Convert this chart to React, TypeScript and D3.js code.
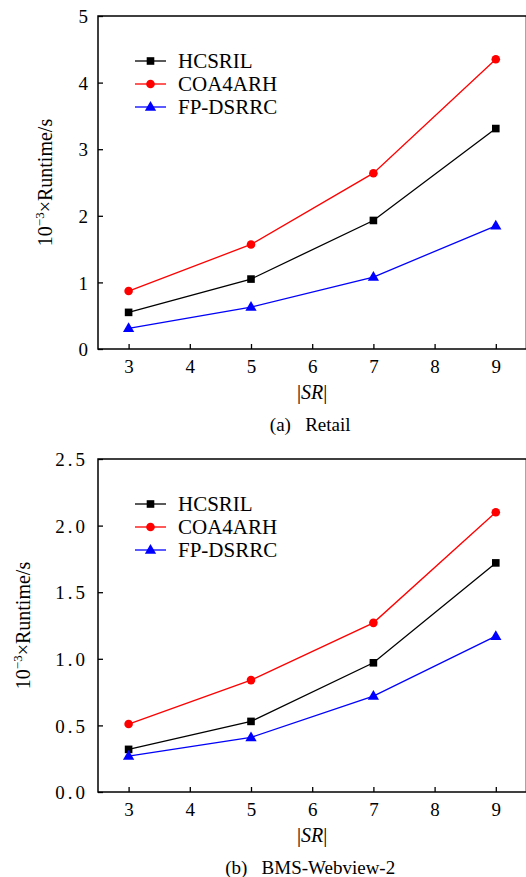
import React, { useEffect, useRef } from 'react';
import * as d3 from 'd3';

// |SR| values on the x axis
const srValues = [3, 5, 7, 9];
const xTicks = [3, 4, 5, 6, 7, 8, 9];
const seriesNames = ['HCSRIL', 'COA4ARH', 'FP-DSRRC'];
const seriesColors = ['#000000', '#ff0000', '#0000ff'];
const seriesMarkers = ['square', 'circle', 'triangle'];

// (a) Retail
const retailHCSRIL = [0.55, 1.05, 1.93, 3.31];
const retailCOA4ARH = [0.87, 1.57, 2.64, 4.35];
const retailFPDSRRC = [0.31, 0.63, 1.08, 1.85];
const retailYTicks = [0, 1, 2, 3, 4, 5];

// (b) BMS-Webview-2
const bmsHCSRIL = [0.32, 0.53, 0.97, 1.72];
const bmsCOA4ARH = [0.51, 0.84, 1.27, 2.1];
const bmsFPDSRRC = [0.27, 0.41, 0.72, 1.17];
const bmsYTicks = [0, 0.5, 1.0, 1.5, 2.0, 2.5];

const FONT = 'Liberation Serif, DejaVu Serif, serif';

type PanelOpts = {
  top: number;
  series: number[][];
  yMax: number;
  yTicks: number[];
  yFormat: (v: number) => string;
  yLetterSpacing: number;
  yLabelX: number;
  caption: string;
};

function drawPanel(svg: d3.Selection<SVGSVGElement, unknown, null, undefined>, o: PanelOpts) {
  var left = 98;
  var plotTop = o.top;
  var plotH = 333;

  var x = d3.scaleLinear().domain([2.5, 9.5]).range([left, left + 7 * 61.2]);
  var y = d3.scaleLinear().domain([0, o.yMax]).range([plotTop + plotH, plotTop]);

  var g = svg.append('g').style('font-family', FONT);

  // frame
  g.append('rect')
    .attr('x', x(2.5))
    .attr('y', y(o.yMax))
    .attr('width', x(9.5) - x(2.5))
    .attr('height', plotH)
    .attr('fill', 'none')
    .attr('stroke', '#000')
    .attr('stroke-width', 1.5);

  var xAxis = d3.axisBottom(x).tickValues(xTicks).tickSizeInner(-5).tickSizeOuter(0).tickPadding(11)
    .tickFormat(d3.format('d'));
  var xg = g.append('g')
    .attr('transform', 'translate(0,' + (plotTop + plotH) + ')')
    .call(xAxis);

  var yAxis = d3.axisLeft(y).tickValues(o.yTicks).tickSizeInner(-5).tickSizeOuter(0).tickPadding(10)
    .tickFormat((d) => o.yFormat(d as number));
  var yg = g.append('g')
    .attr('transform', 'translate(' + left + ',0)')
    .call(yAxis);

  [xg, yg].forEach((a) => {
    a.attr('font-family', null).attr('font-size', null);
    a.select('.domain').remove();
    a.selectAll('line').attr('stroke', '#000').attr('stroke-width', 1.3);
    a.selectAll('text')
      .style('font-family', FONT)
      .style('font-size', '19px')
      .attr('fill', '#000');
  });
  yg.selectAll('text').attr('letter-spacing', o.yLetterSpacing).attr('dy', '0.35em');

  // series
  var line = d3.line<number>()
    .x((d, i) => x(srValues[i]))
    .y((d) => y(d));

  o.series.forEach((vals, si) => {
    g.append('path')
      .datum(vals)
      .attr('d', line)
      .attr('fill', 'none')
      .attr('stroke', seriesColors[si])
      .attr('stroke-width', 1.3);
    vals.forEach((v, i) => {
      drawMarker(g, seriesMarkers[si], x(srValues[i]), y(v), seriesColors[si]);
    });
  });

  // legend
  var lgX = 135;
  var lgY = plotTop + 45;
  seriesNames.forEach((name, si) => {
    var ly = lgY + si * 23;
    g.append('line')
      .attr('x1', lgX).attr('x2', lgX + 31)
      .attr('y1', ly).attr('y2', ly)
      .attr('stroke', seriesColors[si])
      .attr('stroke-width', 1.3);
    drawMarker(g, seriesMarkers[si], lgX + 15.5, ly, seriesColors[si]);
    g.append('text')
      .attr('x', lgX + 43)
      .attr('y', ly)
      .attr('dy', '0.35em')
      .style('font-size', '21px')
      .text(name);
  });

  // y label
  var yl = g.append('text')
    .attr('transform', 'translate(' + o.yLabelX + ',' + (plotTop + plotH / 2) + ') rotate(-90)')
    .attr('text-anchor', 'middle')
    .style('font-size', '20px');
  yl.append('tspan').text('10');
  yl.append('tspan').style('font-size', '13px').attr('dy', -8).text('\u22123');
  yl.append('tspan').attr('dy', 8).text('\u00d7Runtime/s');

  // x label
  var xl = g.append('text')
    .attr('x', x(6))
    .attr('y', plotTop + plotH + 50)
    .attr('text-anchor', 'middle')
    .style('font-size', '20px');
  xl.append('tspan').text('|');
  xl.append('tspan').style('font-style', 'italic').text('SR');
  xl.append('tspan').text('|');

  g.append('text')
    .attr('x', x(6) - 2)
    .attr('y', plotTop + plotH + 82)
    .attr('text-anchor', 'middle')
    .style('font-size', '19px')
    .style('white-space', 'pre')
    .text(o.caption);
}

function drawMarker(g: any, kind: string, cx: number, cy: number, color: string) {
  if (kind === 'square') {
    g.append('rect')
      .attr('x', cx - 3.8).attr('y', cy - 3.8)
      .attr('width', 7.6).attr('height', 7.6)
      .attr('fill', color);
  } else if (kind === 'circle') {
    g.append('circle')
      .attr('cx', cx).attr('cy', cy).attr('r', 4.3)
      .attr('fill', color);
  } else {
    g.append('path')
      .attr('d', d3.symbol(d3.symbolTriangle, 55)())
      .attr('transform', 'translate(' + cx + ',' + (cy + 0.5) + ')')
      .attr('fill', color);
  }
}

export default function App() {
  const svgRef = useRef<SVGSVGElement>(null);

  useEffect(() => {
    var svg = d3.select(svgRef.current!);
    svg.selectAll('*').remove();

    drawPanel(svg, {
      top: 16,
      series: [retailHCSRIL, retailCOA4ARH, retailFPDSRRC],
      yMax: 5,
      yTicks: retailYTicks,
      yFormat: d3.format('d'),
      yLetterSpacing: 0,
      yLabelX: 52,
      caption: '(a)   Retail',
    });

    drawPanel(svg, {
      top: 459,
      series: [bmsHCSRIL, bmsCOA4ARH, bmsFPDSRRC],
      yMax: 2.5,
      yTicks: bmsYTicks,
      yFormat: d3.format('.1f'),
      yLetterSpacing: 3,
      yLabelX: 30,
      caption: '(b)   BMS-Webview-2',
    });
  }, []);

  return (
    <svg
      ref={svgRef}
      width={526}
      height={877}
      style={{ position: 'absolute', left: 0, top: 0, background: '#fff' }}
    ></svg>
  );
}
